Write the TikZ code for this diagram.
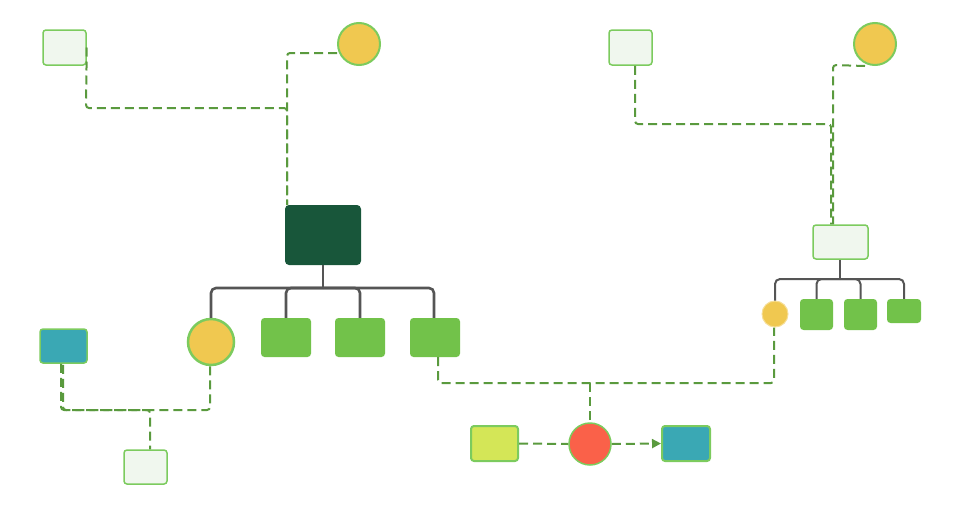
\documentclass[tikz,border=0pt]{standalone}
\usetikzlibrary{arrows.meta}
\definecolor{lightfill}{HTML}{F0F7EE}
\definecolor{lightedge}{HTML}{7CCB5E}
\definecolor{darkbox}{HTML}{18563A}
\definecolor{midgreen}{HTML}{72C24A}
\definecolor{yel}{HTML}{F0C850}
\definecolor{teal}{HTML}{3AA8B4}
\definecolor{lime}{HTML}{D4E657}
\definecolor{redc}{HTML}{FA6149}
\definecolor{dashc}{HTML}{5A9A3E}
\definecolor{treec}{HTML}{555555}
\tikzset{
  lightbox/.style={draw=lightedge, fill=lightfill, line width=1.5pt, rounded corners=3pt, inner sep=0pt},
  greenbox/.style={fill=midgreen, rounded corners=3.5pt, inner sep=0pt},
  yelcirc/.style={circle, draw=lightedge, fill=yel, line width=2pt, inner sep=0pt},
  dl/.style={draw=dashc, line width=2pt, dash pattern=on 9pt off 5pt, rounded corners=3pt},
  tl/.style={draw=treec, line width=2.6pt, rounded corners=5pt},
}
\begin{document}
\begin{tikzpicture}[x=1pt,y=-1pt]
\useasboundingbox (0,0) rectangle (960,506);
% nodes
\node[lightbox, minimum width=43pt, minimum height=35pt] (tlb) at (64.5,47.5) {};
\node[yelcirc, minimum size=42pt] (tc) at (359,44) {};
\node[fill=darkbox, rounded corners=4pt, inner sep=0pt, minimum width=76pt, minimum height=60pt] (dk) at (323,235) {};
\node[yelcirc, minimum size=46pt, line width=2.5pt] (c1) at (211,342) {};
\node[greenbox, minimum width=50pt, minimum height=39pt] (b1) at (286,337.5) {};
\node[greenbox, minimum width=50pt, minimum height=39pt] (b2) at (360,337.5) {};
\node[greenbox, minimum width=50pt, minimum height=39pt] (b3) at (435,337.5) {};
\node[lightbox, fill=teal, minimum width=47pt, minimum height=34pt] (tb) at (63.5,346) {};
\node[lightbox, minimum width=43pt, minimum height=34pt] (blb) at (145.5,467) {};
\node[lightbox, minimum width=43pt, minimum height=35pt] (trb) at (630.5,47.5) {};
\node[yelcirc, minimum size=42pt] (trc) at (875,44) {};
\node[lightbox, minimum width=55pt, minimum height=34pt] (rb) at (840.5,242) {};
\node[circle, draw=yel!60!white, fill=yel, line width=1pt, inner sep=0pt, minimum size=26pt] (sc) at (775,314) {};
\node[greenbox, minimum width=33pt, minimum height=31pt] (g1) at (816.5,314.5) {};
\node[greenbox, minimum width=33pt, minimum height=31pt] (g2) at (860.5,314.5) {};
\node[greenbox, minimum width=34pt, minimum height=24pt] (g3) at (904,311) {};
\node[lightbox, fill=lime, line width=2pt, minimum width=47pt, minimum height=35pt] (lb) at (494.5,443.5) {};
\node[circle, draw=lightedge, fill=redc, line width=1.5pt, inner sep=0pt, minimum size=42pt] (rc) at (590,444) {};
\node[lightbox, fill=teal, line width=2pt, minimum width=48pt, minimum height=35pt] (tb2) at (686,443.5) {};
% trees
\draw[tl] (dk.south) -- (323,288);
\draw[tl] (c1.north) |- (434,288) -- (b3.north -| 434,0);
\draw[tl] (b1.north) |- (323,288);
\draw[tl] (b2.north) |- (323,288);
\draw[tl, line width=2pt] (rb.south -| 840,0) -- (840,279);
\draw[tl, line width=2pt] (sc.north) |- (904,279) -- (g3.north);
\draw[tl, line width=2pt] (g1.north) |- (840,279);
\draw[tl, line width=2pt] (g2.north) |- (840,279);
% dashed connectors
\draw[dl] (tlb.east) -- (86,108) -- (287,108) -- (dk.north -| 287,0);
\draw[dl] (tc.west |- 0,53) -- (287,53) -- (287,205);
\draw[dl] (trb.south -| 635,0) -- (635,124) -- (831,124) -- (rb.north -| 831,0);
\draw[dl] (trc.south -| 865,0) -- (833,65) -- (rb.north -| 833,0);
\draw[dl] (tb.south -| 61,0) -- (61,410) -- (150,410) -- (blb.north -| 150,0);
\draw[dl] (c1.south -| 210,0) -- (210,410) -- (63,410) -- (tb.south -| 63,0);
\draw[dl] (b3.south -| 438,0) -- (438,383) -- (774,383) -- (sc.south -| 774,0);
\draw[dl] (590,383) -- (rc.north);
\draw[dl] (lb.east) -- (rc.west);
\draw[dl, -{Triangle[length=9pt,width=9pt]}] (rc.east) -- (tb2.west);
\end{tikzpicture}
\end{document}
